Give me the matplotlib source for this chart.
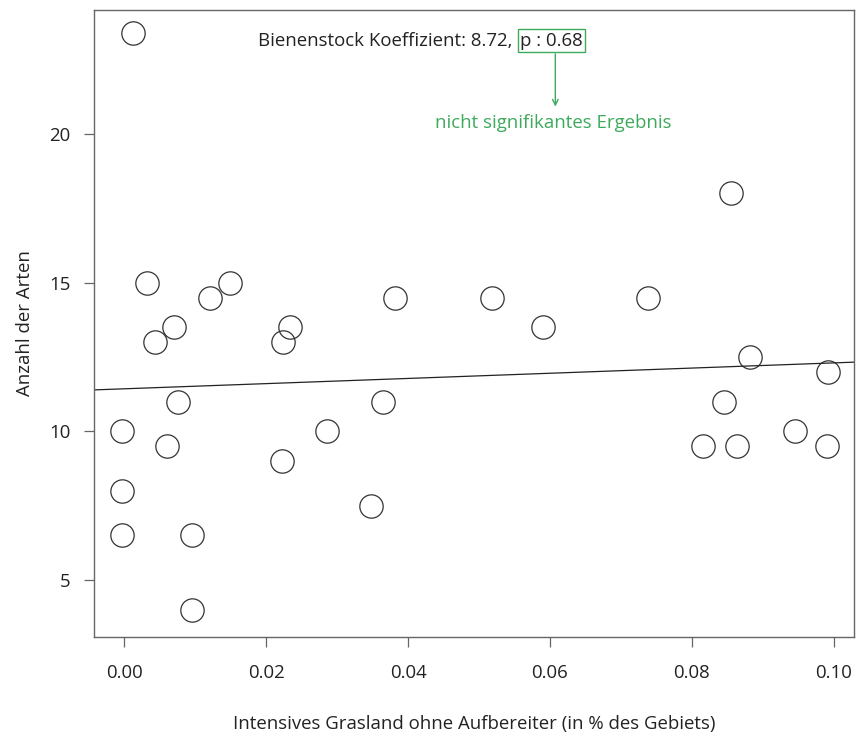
import matplotlib
matplotlib.use("Agg")
import matplotlib.pyplot as plt

plt.rcParams["font.family"] = ["Open Sans", "DejaVu Sans"]

# Anteil intensives Grasland ohne Aufbereiter vs. Anzahl der Arten
grasland = [0.0013, 0.0032, 0.0044, 0.0070, 0.0076, -0.0003, 0.0061, -0.0003,
            -0.0003, 0.0096, 0.0096, 0.0121, 0.0149, 0.0224, 0.0234, 0.0223,
            0.0286, 0.0348, 0.0365, 0.0382, 0.0518, 0.0590, 0.0738, 0.0855,
            0.0882, 0.0992, 0.0845, 0.0945, 0.0815, 0.0863, 0.0990]
arten = [23.4, 15.0, 13.0, 13.5, 11.0, 10.0, 9.5, 8.0,
         6.5, 6.5, 4.0, 14.5, 15.0, 13.0, 13.5, 9.0,
         10.0, 7.5, 11.0, 14.5, 14.5, 13.5, 14.5, 18.0,
         12.5, 12.0, 11.0, 10.0, 9.5, 9.5, 9.5]

achsenabschnitt = 11.43
koeffizient = 8.72
p_wert = 0.68

x_ticks = [0.00, 0.02, 0.04, 0.06, 0.08, 0.10]
y_ticks = [5, 10, 15, 20]

gruen = "#3DAA5C"
dunkel = "#222222"
fs = 13.4

fig = plt.figure(figsize=(8.58, 7.34), dpi=100)
ax = fig.add_axes([94 / 858, 97 / 734, 760 / 858, 627 / 734])

ax.plot(grasland, arten, linestyle="none", marker="o", markersize=16.8,
        markerfacecolor="none", markeredgecolor="#333333", markeredgewidth=0.9)
ax.axline((0, achsenabschnitt), slope=koeffizient, color=dunkel, linewidth=0.9)

ax.set_xlim(-0.00423, 0.10282)
ax.set_ylim(3.083, 24.17)
ax.set_xticks(x_ticks)
ax.set_xticklabels([f"{v:.2f}" for v in x_ticks])
ax.set_yticks(y_ticks)
ax.set_yticklabels([str(v) for v in y_ticks])

for s in ax.spines.values():
    s.set_color("#666666")
    s.set_linewidth(1.0)
ax.tick_params(axis="both", direction="out", length=7.5, width=0.9, color="#666666",
               labelsize=fs, labelcolor=dunkel)
ax.tick_params(axis="x", pad=12)
ax.tick_params(axis="y", pad=9.5)

ax.set_xlabel("Intensives Grasland ohne Aufbereiter (in % des Gebiets)",
              fontsize=fs, color=dunkel, labelpad=24)
ax.set_ylabel("Anzahl der Arten", fontsize=fs, color=dunkel, labelpad=11)

ax.text(0.5575, 0.951, f"Bienenstock Koeffizient: {koeffizient:.2f}, ",
        transform=ax.transAxes, ha="right", va="center", fontsize=fs, color=dunkel)
ax.text(0.561, 0.951, f"p : {p_wert:.2f}", transform=ax.transAxes,
        ha="left", va="center", fontsize=fs, color=dunkel,
        bbox=dict(boxstyle="square,pad=0.12", fc="none", ec=gruen, lw=1.0))
ax.annotate("", xy=(0.607, 0.846), xytext=(0.607, 0.930),
            xycoords="axes fraction", textcoords="axes fraction",
            arrowprops=dict(arrowstyle="->", color=gruen, lw=1.0,
                            mutation_scale=10, shrinkA=0, shrinkB=0))
ax.text(0.604, 0.820, "nicht signifikantes Ergebnis", transform=ax.transAxes,
        ha="center", va="center", fontsize=fs, color=gruen)

fig.savefig("out.png", dpi=100)
